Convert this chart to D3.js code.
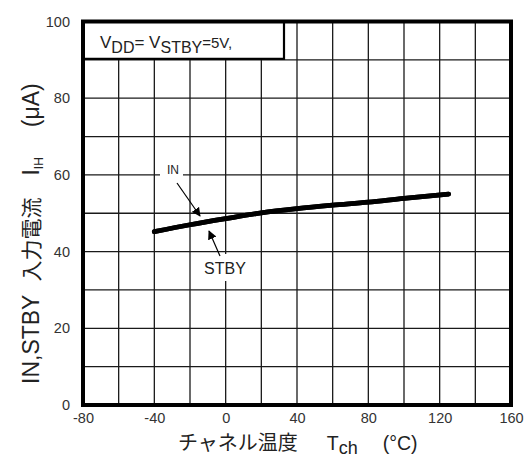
<!DOCTYPE html>
<html>
<head>
<meta charset="utf-8">
<script src="https://cdn.jsdelivr.net/npm/d3@7/dist/d3.min.js"></script>
<style>
  html, body { margin: 0; padding: 0; background: #fff; }
  svg { display: block; }
  text { font-family: "Liberation Sans", Arial, "Noto Sans CJK JP", sans-serif; }
</style>
</head>
<body>
<svg id="chart" width="525" height="465"></svg>
<script>
// Channel temperature (°C) and input current (µA)
const temps = [-40, -20, 0, 20, 40, 60, 80, 100, 125];
const inCurrent = [45.2, 47.0, 48.6, 50.1, 51.2, 52.1, 52.9, 53.9, 55.0];
const stbyCurrent = [45.2, 47.0, 48.6, 50.1, 51.2, 52.1, 52.9, 53.9, 55.0];

const xTicks = [-80, -40, 0, 40, 80, 120, 160];
const yTicks = [0, 20, 40, 60, 80, 100];
const xGrid = [-60, -40, -20, 0, 20, 40, 60, 80, 100, 120, 140];
const yGrid = [10, 20, 30, 40, 50, 60, 70, 80, 90];

const svg = d3.select("#chart");
const plotLeft = 83, plotRight = 511, plotTop = 21.5, plotBottom = 405;

const x = d3.scaleLinear().domain([-80, 160]).range([plotLeft, plotRight]);
const y = d3.scaleLinear().domain([0, 100]).range([plotBottom, plotTop]);

// grid
const grid = svg.append("g").attr("stroke", "#1a1a1a").attr("stroke-width", 1.3);
grid.selectAll("line.v").data(xGrid).join("line")
  .attr("x1", d => x(d)).attr("x2", d => x(d))
  .attr("y1", plotTop).attr("y2", plotBottom);
grid.selectAll("line.h").data(yGrid).join("line")
  .attr("x1", plotLeft).attr("x2", plotRight)
  .attr("y1", d => y(d)).attr("y2", d => y(d));

// condition box in the upper left corner
svg.append("rect")
  .attr("x", plotLeft).attr("y", plotTop)
  .attr("width", 201).attr("height", y(90) - plotTop - 1)
  .attr("fill", "#fff").attr("stroke", "#000").attr("stroke-width", 2.2);
const cond = svg.append("text").attr("x", 100).attr("y", 48)
  .attr("font-size", 17).attr("fill", "#222");
cond.append("tspan").text("V");
cond.append("tspan").attr("dy", 5).attr("font-size", 16).text("DD");
cond.append("tspan").attr("dy", -5).text("= V");
cond.append("tspan").attr("dy", 5).attr("font-size", 16).text("STBY");
cond.append("tspan").attr("dy", -5).attr("font-size", 15).text("=5V,");

// label backgrounds that break the grid lines
svg.append("rect").attr("x", 160).attr("y", 163).attr("width", 23).attr("height", 14).attr("fill", "#fff");
svg.append("rect").attr("x", 200).attr("y", 254).attr("width", 50).attr("height", 27).attr("fill", "#fff");

// curves
const line = d3.line().x(d => x(d[0])).y(d => y(d[1])).curve(d3.curveMonotoneX);
[stbyCurrent, inCurrent].forEach(vals => {
  svg.append("path")
    .datum(temps.map((t, i) => [t, vals[i]]))
    .attr("d", line)
    .attr("fill", "none").attr("stroke", "#000")
    .attr("stroke-width", 4.8).attr("stroke-linecap", "round");
});

// annotations with arrows
svg.append("defs").append("marker")
  .attr("id", "arrow").attr("viewBox", "0 0 10 10")
  .attr("refX", 9).attr("refY", 5)
  .attr("markerWidth", 9).attr("markerHeight", 9)
  .attr("markerUnits", "userSpaceOnUse")
  .attr("orient", "auto")
  .append("path").attr("d", "M0,0 L10,5 L0,10 Z").attr("fill", "#000");

svg.append("text").attr("x", 173).attr("y", 174).attr("text-anchor", "middle")
  .attr("font-size", 12).attr("fill", "#222").text("IN");
svg.append("line").attr("x1", 177).attr("y1", 183).attr("x2", 200).attr("y2", 216)
  .attr("stroke", "#000").attr("stroke-width", 1.2).attr("marker-end", "url(#arrow)");

svg.append("text").attr("x", 225).attr("y", 274).attr("text-anchor", "middle")
  .attr("font-size", 16).attr("fill", "#222").text("STBY");
svg.append("line").attr("x1", 220).attr("y1", 256).attr("x2", 209).attr("y2", 231)
  .attr("stroke", "#000").attr("stroke-width", 1.2).attr("marker-end", "url(#arrow)");

// frame
svg.append("rect")
  .attr("x", plotLeft).attr("y", plotTop)
  .attr("width", plotRight - plotLeft).attr("height", plotBottom - plotTop)
  .attr("fill", "none").attr("stroke", "#000").attr("stroke-width", 4);

// axes
const fmt = d => String(d);
const xAxis = svg.append("g").attr("transform", `translate(0,${plotBottom})`)
  .call(d3.axisBottom(x).tickValues(xTicks).tickFormat(fmt).tickSize(0).tickPadding(8));
const yAxis = svg.append("g").attr("transform", `translate(${plotLeft},0)`)
  .call(d3.axisLeft(y).tickValues(yTicks).tickFormat(fmt).tickSize(0).tickPadding(13));
[xAxis, yAxis].forEach(g => {
  g.select(".domain").remove();
  g.selectAll("text")
    .attr("font-family", "'Liberation Sans', Arial, sans-serif")
    .attr("font-size", 14.5).attr("fill", "#333");
});

// axis titles
const xt = svg.append("text").attr("x", 178).attr("y", 450)
  .attr("font-size", 19.5).attr("fill", "#222");
xt.append("tspan").attr("font-family", "'Noto Sans CJK JP', sans-serif").attr("font-size", 20).text("チャネル温度");
xt.append("tspan").attr("dx", 29).text("T");
xt.append("tspan").attr("dy", 4).attr("font-size", 18).text("ch");
xt.append("tspan").attr("dy", -4).attr("dx", 25).text("(°C)");

const yt = svg.append("text")
  .attr("transform", "translate(39,384) rotate(-90)")
  .attr("font-size", 23).attr("fill", "#222");
yt.append("tspan").text("IN,STBY");
yt.append("tspan").attr("dx", 13).attr("font-family", "'Noto Sans CJK JP', sans-serif").attr("font-size", 21).text("入力電流");
yt.append("tspan").attr("dx", 22).text("I");
yt.append("tspan").attr("dy", 4).attr("font-size", 12).text("IH");
yt.append("tspan").attr("dy", -4).attr("dx", 30).text("(μA)");
</script>
</body>
</html>
